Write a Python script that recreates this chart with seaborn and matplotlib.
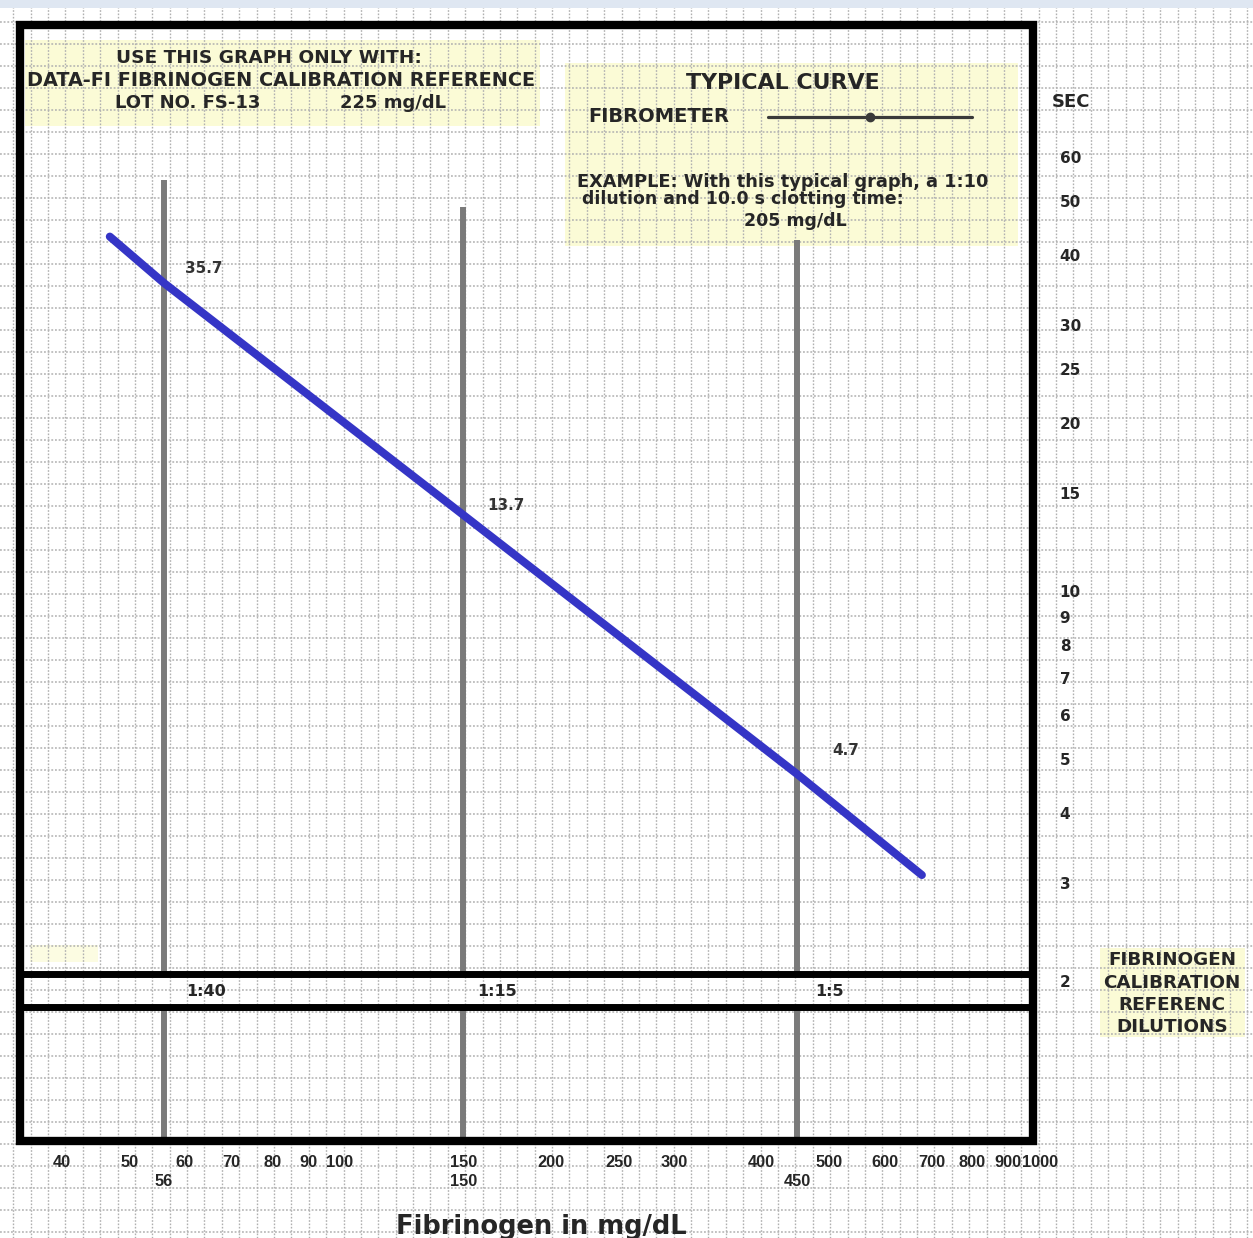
import numpy as np
import pandas as pd
import matplotlib
matplotlib.use("Agg")
import matplotlib.pyplot as plt
from matplotlib.patches import Rectangle
from matplotlib.ticker import NullLocator
import seaborn as sns

# Typical calibration curve (fibrinogen vs clotting time)
fibrinogen_mg_dl = [46.9, 56, 150, 450, 678]
clot_time_sec = [43.2, 35.7, 13.7, 4.7, 3.1]

# Calibration reference dilutions and their read-off points
dilution_labels = ["1:40", "1:15", "1:5"]
dilution_mg_dl = [56, 150, 450]
dilution_sec = [35.7, 13.7, 4.7]
value_labels = ["35.7", "13.7", "4.7"]

x_ticks = [40, 50, 60, 70, 80, 90, 100, 150, 200, 250, 300, 400, 500, 600, 700, 800, 900, 1000]
y_ticks = [2, 3, 4, 5, 6, 7, 8, 9, 10, 15, 20, 25, 30, 40, 50, 60]

sns.set_theme(style="white")
plt.rcParams["font.family"] = ["DejaVu Sans"]
plt.rcParams["font.weight"] = "bold"

W, H = 1253, 1238
INK = "#262626"
YELLOW = "#fbfbd6"
TICK_FONT = "Liberation Sans"

fig = plt.figure(figsize=(W / 100, H / 100), dpi=100)
fig.patch.set_facecolor("white")

# ---- graph-paper sheet in pixel coordinates ----
bg = fig.add_axes([0, 0, 1, 1])
bg.set_xlim(0, W)
bg.set_ylim(H, 0)
bg.axis("off")

for gx in np.arange(13.3, W, 17.38):
    bg.axvline(gx, color="#b0b0b0", lw=1.0, ls=(0, (1.2, 1.2)), zorder=1)
for gy in np.arange(21.7, H, 22.0):
    bg.axhline(gy, color="#b0b0b0", lw=1.1, ls=(0, (1.2, 1.2)), zorder=1)

bg.add_patch(Rectangle((0, 0), W, 8, color="#dfe7f2", zorder=2, lw=0))

# note boxes
for (x0, y0, x1, y1) in [(25, 40, 540, 126), (565, 63, 1018, 246), (1100, 948, 1245, 1037)]:
    bg.add_patch(Rectangle((x0, y0), x1 - x0, y1 - y0, color=YELLOW, zorder=0, lw=0))
bg.add_patch(Rectangle((30, 945), 68, 17, color=YELLOW, zorder=0, lw=0, alpha=0.7))

def note(x, y, s, size=13, ha="left"):
    bg.text(x, y, s, fontsize=size, ha=ha, va="center", color=INK, zorder=5)

note(269, 58, "USE THIS GRAPH ONLY WITH:", 13.3, "center")
note(281, 81, "DATA-FI FIBRINOGEN CALIBRATION REFERENCE", 13.9, "center")
note(115, 103, "LOT NO. FS-13", 13)
note(340, 103, "225 mg/dL", 13)

note(783, 83, "TYPICAL CURVE", 15.9, "center")
note(588, 117, "FIBROMETER", 14)
bg.plot([768, 972], [117, 117], color="#3a3a3a", lw=2.3, zorder=5, solid_capstyle="round")
bg.plot([870], [117], "o", color="#3a3a3a", ms=6, zorder=6)
note(577, 182, "EXAMPLE: With this typical graph, a 1:10", 12.8)
note(582, 199, "dilution and 10.0 s clotting time:", 12.5)
note(795, 221, "205 mg/dL", 12.5, "center")

for yy, s in zip([960, 983, 1005, 1027], ["FIBRINOGEN", "CALIBRATION", "REFERENC", "DILUTIONS"]):
    note(1172, yy, s, 13.2, "center")

# ---- log-log data axes ----
AX_L, AX_R, AX_T, AX_B = 22, 1050, 25, 1141
ax = fig.add_axes([AX_L / W, 1 - AX_B / H, (AX_R - AX_L) / W, (AX_B - AX_T) / H])
ax.set_facecolor("none")

def px_to_x(px):
    return 10 ** (2 + (px - 340) / 700)

def py_to_y(py):
    return 10 ** (np.log10(60) - (py - 157) / 558)

def fx(px):
    return (px - AX_L) / (AX_R - AX_L)

def fy(py):
    return (AX_B - py) / (AX_B - AX_T)

# typical curve
curve = pd.DataFrame({"fibrinogen": fibrinogen_mg_dl, "seconds": clot_time_sec})
sns.lineplot(data=curve, x="fibrinogen", y="seconds", ax=ax, color="#3535c6", lw=5.8,
             estimator=None, zorder=6, solid_capstyle="round")

ax.set_xscale("log")
ax.set_yscale("log")
ax.set_xlim(px_to_x(AX_L), px_to_x(AX_R))
ax.set_ylim(py_to_y(AX_B), py_to_y(AX_T))
for s in ax.spines.values():
    s.set_visible(False)
ax.grid(False)

ax.set_xticks(x_ticks)
ax.set_xticklabels([str(v) for v in x_ticks], fontfamily=TICK_FONT)
ax.xaxis.set_minor_locator(NullLocator())
ax.tick_params(axis="x", which="both", length=0, pad=10, labelsize=11.8, labelcolor=INK)

ax.yaxis.tick_right()
ax.set_yticks(y_ticks)
ax.set_yticklabels([str(v) for v in y_ticks])
ax.yaxis.set_minor_locator(NullLocator())
ax.tick_params(axis="y", which="both", length=0, pad=7, labelsize=11, labelcolor=INK)

ax.set_xlabel("Fibrinogen in mg/dL", fontsize=18.5, fontweight="bold", color=INK)
ax.set_ylabel("SEC", rotation=0, fontsize=13, fontweight="bold", color=INK)
ax.yaxis.set_label_position("right")
ax.xaxis.set_label_coords(fx(541), fy(1227))
ax.yaxis.set_label_coords(fx(1071), fy(102))
ax.xaxis.label.set_va("center")
ax.yaxis.label.set_va("center")
ax.yaxis.label.set_ha("center")

# outer frame and dilution band
BAND_TOP, BAND_BOT = 974, 1007
ax.add_patch(Rectangle((20, 25), 1013, 1116, fill=False, ec="black", lw=6,
                       transform=bg.transData, clip_on=False, zorder=7))
ax.add_patch(Rectangle((20, BAND_TOP), 1013, BAND_BOT - BAND_TOP, fill=False, ec="black", lw=5,
                       transform=bg.transData, clip_on=False, zorder=7))

# dilution guide lines, interrupted by the band
guide_top_px = [180, 207, 240]
xt = ax.get_xaxis_transform()
ax.vlines(dilution_mg_dl, fy(BAND_TOP), [fy(p) for p in guide_top_px], transform=xt,
          color="#7a7a7a", lw=4.3, zorder=3)
ax.vlines(dilution_mg_dl, 0, fy(BAND_BOT), transform=xt, color="#7a7a7a", lw=4.3, zorder=3)

dil_offsets = [16, 10, 13]
for x, lbl, off in zip(dilution_mg_dl, dilution_labels, dil_offsets):
    ax.annotate(lbl, xy=(x, fy(991)), xycoords=xt, xytext=(off, 0), textcoords="offset points",
                ha="left", va="center", fontsize=11.5, color=INK, zorder=8)
    ax.text(x, fy(1182), str(x), transform=xt, ha="center", va="center", fontsize=11.8,
            fontfamily=TICK_FONT, color=INK, clip_on=False)

label_offsets = [(15, 10), (17, 6.5), (25, 17)]
for x, y, s, (dx, dy) in zip(dilution_mg_dl, dilution_sec, value_labels, label_offsets):
    ax.annotate(s, xy=(x, y), xytext=(dx, dy), textcoords="offset points", ha="left",
                va="center", fontsize=11, color="#333333", zorder=8)

fig.savefig("out.png", dpi=100)
